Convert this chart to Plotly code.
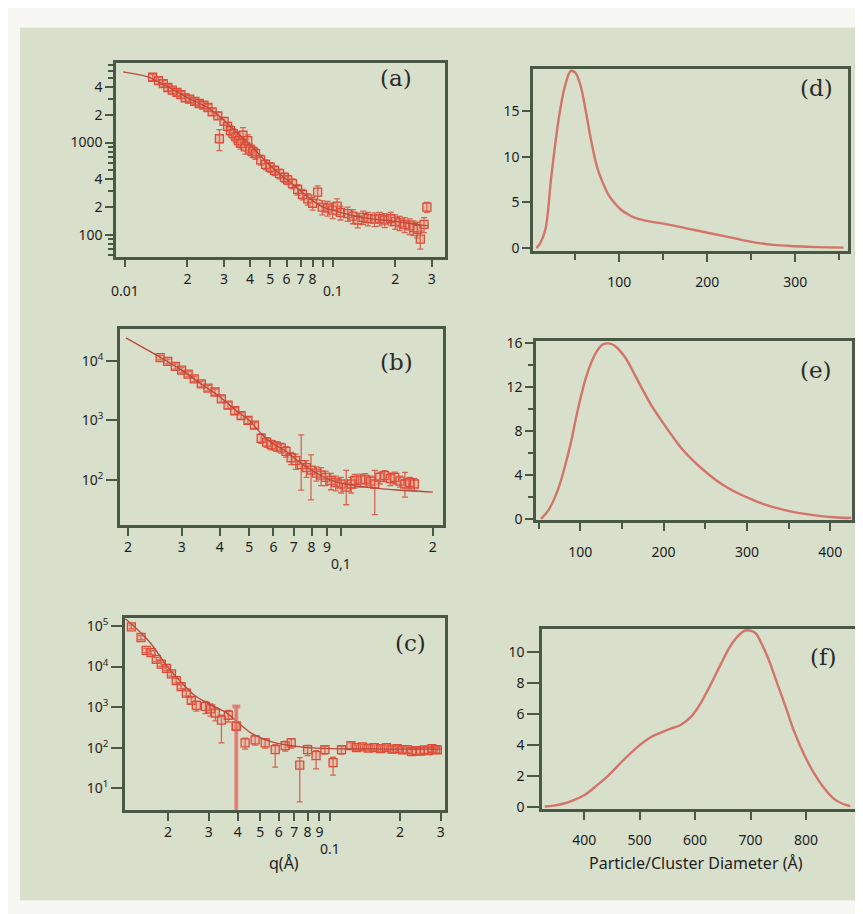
import numpy as np
import plotly.graph_objects as go

W, H = 863, 914
BG = '#d8dfcb'
PAPER = '#f6f7f2'
AX = '#4a5846'
RED = '#df4b36'
FILL = 'rgba(236,120,100,0.28)'
FIT = '#b8493d'
CURVE = '#d2746a'
TXT = '#1e1e1e'

# ---------------- panel (a) ----------------
q_a = [0.0136, 0.0145, 0.0153, 0.0161, 0.0169, 0.0178, 0.0186, 0.0195, 0.0205, 0.0217,
       0.0228, 0.0240, 0.0251, 0.0263, 0.0280, 0.0285, 0.0300, 0.0312, 0.0322, 0.0332,
       0.0342, 0.0352, 0.0361, 0.0370, 0.0380, 0.0390, 0.0400, 0.0412, 0.0425, 0.0450,
       0.0475, 0.0500, 0.0525, 0.0555, 0.0585, 0.0607, 0.0640, 0.0678, 0.0715, 0.0759,
       0.0800, 0.0846, 0.0890, 0.0945, 0.1000, 0.1050, 0.1090, 0.1180, 0.1250, 0.1320,
       0.1400, 0.1480, 0.1590, 0.1680, 0.1780, 0.1900, 0.2000, 0.2100, 0.2220, 0.2350,
       0.2450, 0.2550, 0.2640, 0.2750, 0.2840]
I_a = [5100, 4700, 4350, 3950, 3700, 3500, 3300, 3050, 2950, 2800,
       2650, 2550, 2400, 2150, 1950, 1100, 1700, 1500, 1350, 1250,
       1150, 1050, 980, 1200, 900, 1050, 850, 800, 760, 650,
       580, 540, 500, 460, 420, 395, 360, 310, 275, 245,
       220, 290, 200, 195, 185, 205, 175, 170, 160, 145,
       155, 150, 148, 150, 145, 150, 140, 135, 130, 125,
       120, 115, 90, 130, 200]
err_a = [400, 380, 350, 320, 300, 280, 260, 250, 240, 230,
         210, 200, 190, 180, 170, 280, 160, 150, 170, 160,
         150, 140, 130, 250, 150, 160, 120, 110, 100, 80,
         70, 65, 60, 55, 50, 45, 45, 40, 35, 35,
         35, 50, 35, 35, 35, 40, 30, 30, 28, 26,
         26, 25, 25, 25, 25, 25, 25, 24, 24, 24,
         22, 22, 20, 24, 25]
qfit_a = [0.0098, 0.0129, 0.016, 0.02, 0.025, 0.03, 0.035, 0.04, 0.05, 0.06,
          0.07, 0.08, 0.09, 0.1, 0.12, 0.15, 0.2, 0.25, 0.29]
Ifit_a = [5840, 5160, 4050, 3050, 2400, 1750, 1250, 950, 560, 400,
          300, 235, 200, 185, 165, 150, 140, 130, 125]

# ---------------- panel (b) ----------------
q_b = [0.0255, 0.027, 0.0286, 0.030, 0.0315, 0.033, 0.0348, 0.0366, 0.0386, 0.0405,
       0.0426, 0.0448, 0.047, 0.0495, 0.052, 0.0547, 0.057, 0.059, 0.0613, 0.0636,
       0.066, 0.0686, 0.071, 0.074, 0.077, 0.0797, 0.083, 0.086, 0.089, 0.0927,
       0.096, 0.100, 0.104, 0.108, 0.111, 0.116, 0.120, 0.125, 0.129, 0.134,
       0.139, 0.145, 0.150, 0.156, 0.162, 0.168, 0.174]
I_b = [11400, 9800, 8100, 7000, 6000, 5000, 4100, 3500, 3000, 2300,
       1800, 1450, 1200, 1000, 830, 500, 430, 390, 370, 345,
       300, 235, 210, 180, 160, 145, 130, 120, 110, 98,
       90, 85, 75, 85, 98, 100, 102, 95, 85, 110,
       118, 105, 110, 95, 85, 90, 85]
errp_b = [1000, 900, 800, 700, 600, 500, 450, 400, 350, 280,
          220, 180, 150, 120, 100, 90, 80, 70, 70, 65,
          60, 55, 60, 390, 50, 118, 35, 40, 30, 30,
          25, 25, 69, 25, 25, 25, 25, 20, 59, 25,
          25, 25, 25, 20, 48, 20, 20]
errm_b = [1000, 900, 800, 700, 600, 500, 450, 400, 350, 280,
          220, 180, 150, 120, 100, 90, 80, 70, 70, 65,
          60, 55, 60, 113, 50, 99, 35, 40, 30, 30,
          25, 25, 37, 25, 25, 25, 25, 20, 59, 25,
          25, 25, 25, 20, 34, 20, 20]
qfit_b = [0.0197, 0.025, 0.03, 0.035, 0.04, 0.045, 0.05, 0.055, 0.06, 0.065,
          0.07, 0.075, 0.08, 0.09, 0.1, 0.12, 0.15, 0.2]
Ifit_b = [24400, 12200, 7000, 4000, 2500, 1500, 1000, 580, 400, 320,
          235, 180, 145, 105, 88, 75, 68, 62]

# ---------------- panel (c) ----------------
q_c = [0.0139, 0.0153, 0.0161, 0.0169, 0.0178, 0.0187, 0.0197, 0.0207, 0.0217, 0.0228,
       0.024, 0.0252, 0.0265, 0.029, 0.0305, 0.032, 0.034, 0.0364, 0.0394, 0.043,
       0.0475, 0.0525, 0.058, 0.064, 0.068, 0.074, 0.080, 0.087, 0.095, 0.103,
       0.112, 0.123, 0.13, 0.138, 0.146, 0.155, 0.165, 0.175, 0.185, 0.195,
       0.205, 0.215, 0.225, 0.235, 0.245, 0.255, 0.265, 0.275, 0.285, 0.29]
I_c = [95500, 52000, 25000, 22000, 15000, 11500, 9000, 6600, 4500, 3200,
       2200, 1460, 1100, 1040, 900, 710, 480, 630, 340, 132,
       156, 132, 89, 112, 132, 37, 89, 64, 89, 43,
       89, 112, 100, 105, 98, 100, 95, 100, 92, 95,
       88, 90, 80, 85, 82, 88, 85, 95, 90, 88]
errp_c = [10000, 6000, 3000, 2500, 1800, 1400, 1100, 800, 600, 400,
          300, 250, 300, 350, 300, 250, 150, 200, 700, 40,
          40, 35, 30, 30, 35, 20, 25, 20, 20, 15,
          20, 20, 15, 15, 15, 15, 15, 15, 15, 15,
          15, 15, 15, 15, 15, 15, 15, 15, 15, 15]
errm_c = [10000, 6000, 3000, 2500, 1800, 1400, 1100, 800, 600, 400,
          300, 250, 300, 350, 300, 250, 348, 200, 339.5, 40,
          40, 35, 56, 30, 35, 32.4, 25, 34, 20, 22,
          20, 20, 15, 15, 15, 15, 15, 15, 15, 15,
          15, 15, 15, 15, 15, 15, 15, 15, 15, 15]
qfit_c = [0.0131, 0.015, 0.017, 0.02, 0.023, 0.026, 0.03, 0.036, 0.04, 0.0455,
          0.054, 0.06, 0.07, 0.08, 0.1, 0.15, 0.2, 0.3]
Ifit_c = [150000, 75000, 35000, 9500, 3900, 1950, 1200, 700, 420, 231,
          150, 125, 110, 100, 95, 93, 92, 92]

# ---------------- distributions ----------------
D_d = [6, 10, 16, 23, 31, 38, 45, 50, 56, 62, 68, 75, 82, 88, 95, 102, 110, 118,
       130, 148, 170, 199, 225, 249, 275, 300, 325, 355]
P_d = [0, 0.5, 2.0, 8.0, 14.0, 17.6, 19.4, 19.2, 17.8, 15.0, 11.8, 8.8, 7.0, 5.8,
       4.9, 4.2, 3.7, 3.3, 3.0, 2.7, 2.3, 1.7, 1.2, 0.7, 0.35, 0.2, 0.1, 0.05]
D_e = [53, 62, 73, 81, 89, 95, 101, 107, 113, 120, 127, 134, 141, 148, 155, 163,
       172, 185, 199, 211, 223, 237, 251, 270, 285, 299, 320, 343, 365, 384, 405, 425]
P_e = [0, 0.8, 2.6, 4.6, 7.0, 9.2, 11.2, 12.9, 14.2, 15.3, 15.9, 16.0, 15.8, 15.3,
       14.6, 13.5, 12.2, 10.4, 8.8, 7.5, 6.3, 5.2, 4.25, 3.15, 2.5, 2.0, 1.35, 0.85,
       0.5, 0.3, 0.15, 0.08]
D_f = [329, 345, 362, 380, 400, 420, 443, 470, 497, 520, 538, 555, 574, 592, 610,
       628, 646, 662, 676, 690, 700, 710, 718, 733, 748, 764, 779, 797, 815, 833,
       851, 866, 880]
P_f = [0.02, 0.08, 0.2, 0.42, 0.75, 1.3, 2.0, 3.0, 3.9, 4.5, 4.8, 5.05, 5.3, 5.8,
       6.7, 7.9, 9.2, 10.3, 11.0, 11.4, 11.4, 11.2, 10.7, 9.5, 8.0, 6.4, 4.85, 3.35,
       2.15, 1.2, 0.5, 0.2, 0.05]

# ---------------- tick labels ----------------
xt_a = [0.01, 0.02, 0.03, 0.04, 0.05, 0.06, 0.07, 0.08, 0.09, 0.1, 0.2, 0.3]
xl_a = ['', '2', '3', '4', '5', '6', '7', '8', '', '', '2', '3']
dec_a = [0.01, 0.1]
decl_a = ['0.01', '0.1']
yt_a = [100, 200, 400, 1000, 2000, 4000]
yl_a = ['100', '2', '4', '1000', '2', '4']
ym_a = [60, 70, 80, 90, 300, 500, 600, 700, 800, 900, 3000, 5000, 6000, 7000]

xt_b = [0.02, 0.03, 0.04, 0.05, 0.06, 0.07, 0.08, 0.09, 0.1, 0.2]
xl_b = ['2', '3', '4', '5', '6', '7', '8', '9', '', '2']
dec_b = [0.1]
decl_b = ['0,1']
yt_b = [100, 1000, 10000]
yl_b = ['10<sup>2</sup>', '10<sup>3</sup>', '10<sup>4</sup>']

xt_c = [0.02, 0.03, 0.04, 0.05, 0.06, 0.07, 0.08, 0.09, 0.1, 0.2, 0.3]
xl_c = ['2', '3', '4', '5', '6', '7', '8', '9', '', '2', '3']
dec_c = [0.1]
decl_c = ['0.1']
yt_c = [10, 100, 1000, 10000, 100000]
yl_c = ['10<sup>1</sup>', '10<sup>2</sup>', '10<sup>3</sup>', '10<sup>4</sup>', '10<sup>5</sup>']

xt_d = [100, 200, 300]
xm_d = [50, 150, 250, 350]
yt_d = [0, 5, 10, 15]
xt_e = [100, 200, 300, 400]
xm_e = [50, 150, 250, 350]
yt_e = [0, 4, 8, 12, 16]
ym_e = [2, 6, 10, 14]
xt_f = [400, 500, 600, 700, 800]
yt_f = [0, 2, 4, 6, 8, 10]

panel_names = ['(a)', '(b)', '(c)', '(d)', '(e)', '(f)']
xtitle_left = 'q(Å)'
xtitle_right = 'Particle/Cluster Diameter (Å)'

# ---------------- layout geometry (pixels) ----------------
boxes = {
    1: (108, 437, 48, 245),
    2: (112, 435, 319, 518),
    3: (117, 437, 613, 808),
    4: (525, 840, 54, 239),
    5: (528, 844, 331, 513),
    6: (534, 849, 624, 807),
}


def xd(n):
    l, r, t, b = boxes[n]
    return [l / W, r / W]


def yd(n):
    l, r, t, b = boxes[n]
    return [1 - b / H, 1 - t / H]


fig = go.Figure()


def add_saxs(n, q, I, ep, em, qf, If_):
    ax = '' if n == 1 else str(n)
    fig.add_trace(go.Scatter(
        x=q, y=I, mode='markers', xaxis='x' + ax, yaxis='y' + ax,
        marker=dict(symbol='square', size=8, color=FILL, line=dict(color=RED, width=1.3)),
        error_y=dict(type='data', array=ep, arrayminus=em, color='rgba(215,80,60,0.85)',
                     thickness=1.3, width=3),
        showlegend=False, hoverinfo='skip'))
    fig.add_trace(go.Scatter(
        x=qf, y=If_, mode='lines', xaxis='x' + ax, yaxis='y' + ax,
        line=dict(color=FIT, width=1.3, shape='spline', smoothing=0.8),
        showlegend=False, hoverinfo='skip'))


add_saxs(1, q_a, I_a, err_a, err_a, qfit_a, Ifit_a)
add_saxs(2, q_b, I_b, errp_b, errm_b, qfit_b, Ifit_b)
add_saxs(3, q_c, I_c, errp_c, errm_c, qfit_c, Ifit_c)

# the very wide error bar in (c)
ratio = np.array(errm_c) / np.array(I_c)
k = int(np.argmax(ratio))
fig.add_trace(go.Scatter(
    x=[q_c[k]], y=[I_c[k]], mode='markers', xaxis='x3', yaxis='y3',
    marker=dict(symbol='square', size=8, color=FILL, line=dict(color=RED, width=1.3)),
    error_y=dict(type='data', array=[errp_c[k]], arrayminus=[errm_c[k]],
                 color='rgba(220,120,110,0.8)', thickness=4, width=4),
    showlegend=False, hoverinfo='skip'))

for n, (D, P) in zip([4, 5, 6], [(D_d, P_d), (D_e, P_e), (D_f, P_f)]):
    fig.add_trace(go.Scatter(
        x=D, y=P, mode='lines', xaxis='x' + str(n), yaxis='y' + str(n),
        line=dict(color=CURVE, width=2.4, shape='spline', smoothing=1.0),
        showlegend=False, hoverinfo='skip'))

TF = dict(family='Noto Sans, Lato, sans-serif', size=14, color=TXT)
common = dict(showline=True, mirror=True, linecolor=AX, linewidth=2.5,
              ticks='outside', tickcolor=AX, tickwidth=2, ticklen=8,
              showgrid=False, zeroline=False, tickfont=TF, tickmode='array',
              fixedrange=True)


def lg(v):
    return float(np.log10(v))


layout = dict(
    width=W, height=H, margin=dict(l=0, r=0, t=0, b=0),
    paper_bgcolor=PAPER, plot_bgcolor=BG, showlegend=False,
)

# (a)
layout['xaxis'] = dict(common, domain=xd(1), anchor='y', type='log',
                       range=[lg(0.00906), lg(0.347)], tickvals=xt_a, ticktext=xl_a)
layout['yaxis'] = dict(common, domain=yd(1), anchor='x', type='log',
                       range=[lg(58), lg(7250)], tickvals=yt_a, ticktext=yl_a,
                       minor=dict(tickvals=ym_a, ticklen=5, tickwidth=1.5, tickcolor=AX,
                                  ticks='outside', showgrid=False))
# (b)
layout['xaxis2'] = dict(common, domain=xd(2), anchor='y2', type='log',
                        range=[lg(0.01883), lg(0.216)], tickvals=xt_b, ticktext=xl_b)
layout['yaxis2'] = dict(common, domain=yd(2), anchor='x2', type='log',
                        range=[lg(17.4), lg(33900)], tickvals=yt_b, ticktext=yl_b, ticklen=11)
# (c)
layout['xaxis3'] = dict(common, domain=xd(3), anchor='y3', type='log',
                        range=[lg(0.01305), lg(0.313)], tickvals=xt_c, ticktext=xl_c)
layout['yaxis3'] = dict(common, domain=yd(3), anchor='x3', type='log',
                        range=[lg(2.93), lg(155000)], tickvals=yt_c, ticktext=yl_c, ticklen=11)
# (d)
layout['xaxis4'] = dict(common, domain=xd(4), anchor='y4', range=[2, 360], tickvals=xt_d,
                        ticklabelstandoff=9,
                        minor=dict(tickvals=xm_d, ticklen=6, tickwidth=2, tickcolor=AX,
                                   ticks='outside', showgrid=False))
layout['yaxis4'] = dict(common, domain=yd(4), anchor='x4', range=[-0.3, 19.6], tickvals=yt_d)
# (e)
layout['xaxis5'] = dict(common, domain=xd(5), anchor='y5', range=[47, 426], tickvals=xt_e,
                        ticklabelstandoff=9,
                        minor=dict(tickvals=xm_e, ticklen=6, tickwidth=2, tickcolor=AX,
                                   ticks='outside', showgrid=False))
layout['yaxis5'] = dict(common, domain=yd(5), anchor='x5', range=[-0.1, 16.2], tickvals=yt_e,
                        minor=dict(tickvals=ym_e, ticklen=5, tickwidth=1.5, tickcolor=AX,
                                   ticks='outside', showgrid=False))
# (f)
layout['xaxis6'] = dict(common, domain=xd(6), anchor='y6', range=[324, 892], tickvals=xt_f,
                        ticklabelstandoff=9)
layout['yaxis6'] = dict(common, domain=yd(6), anchor='x6', range=[-0.13, 11.5], tickvals=yt_f,
                        ticklen=12)

fig.update_layout(**layout)

# background panel
fig.add_shape(type='rect', xref='paper', yref='paper', x0=12 / W, x1=857 / W,
              y0=1 - 900 / H, y1=1 - 12 / H, fillcolor=BG, line=dict(width=0), layer='below')

ann = []
# panel labels
label_pos = [(388, 63), (388, 352), (402, 638), (808, 73), (808, 360), (815, 652)]
for txt, (px, py) in zip(panel_names, label_pos):
    ann.append(dict(text=txt, x=px / W, y=1 - py / H, xref='paper', yref='paper',
                    xanchor='center', yanchor='middle', showarrow=False,
                    font=dict(family='DejaVu Serif, serif', size=23, color='#2a2a2a')))
# decade labels placed under the log x axes
for axn, vals, texts, py in [('x', dec_a, decl_a, 279), ('x2', dec_b, decl_b, 557),
                             ('x3', dec_c, decl_c, 847)]:
    for v, t in zip(vals, texts):
        ann.append(dict(text=t, x=lg(v), y=1 - py / H, xref=axn, yref='paper',
                        xanchor='center', yanchor='middle', showarrow=False, font=TF))
# axis titles
ann.append(dict(text=xtitle_left, x=276 / W, y=1 - 862 / H, xref='paper', yref='paper',
                xanchor='center', yanchor='middle', showarrow=False,
                font=dict(family='Noto Sans, sans-serif', size=16, color=TXT)))
ann.append(dict(text=xtitle_right, x=688 / W, y=1 - 862 / H, xref='paper', yref='paper',
                xanchor='center', yanchor='middle', showarrow=False,
                font=dict(family='Noto Sans, sans-serif', size=16, color=TXT)))
fig.update_layout(annotations=ann)

fig.write_html('out.html')
